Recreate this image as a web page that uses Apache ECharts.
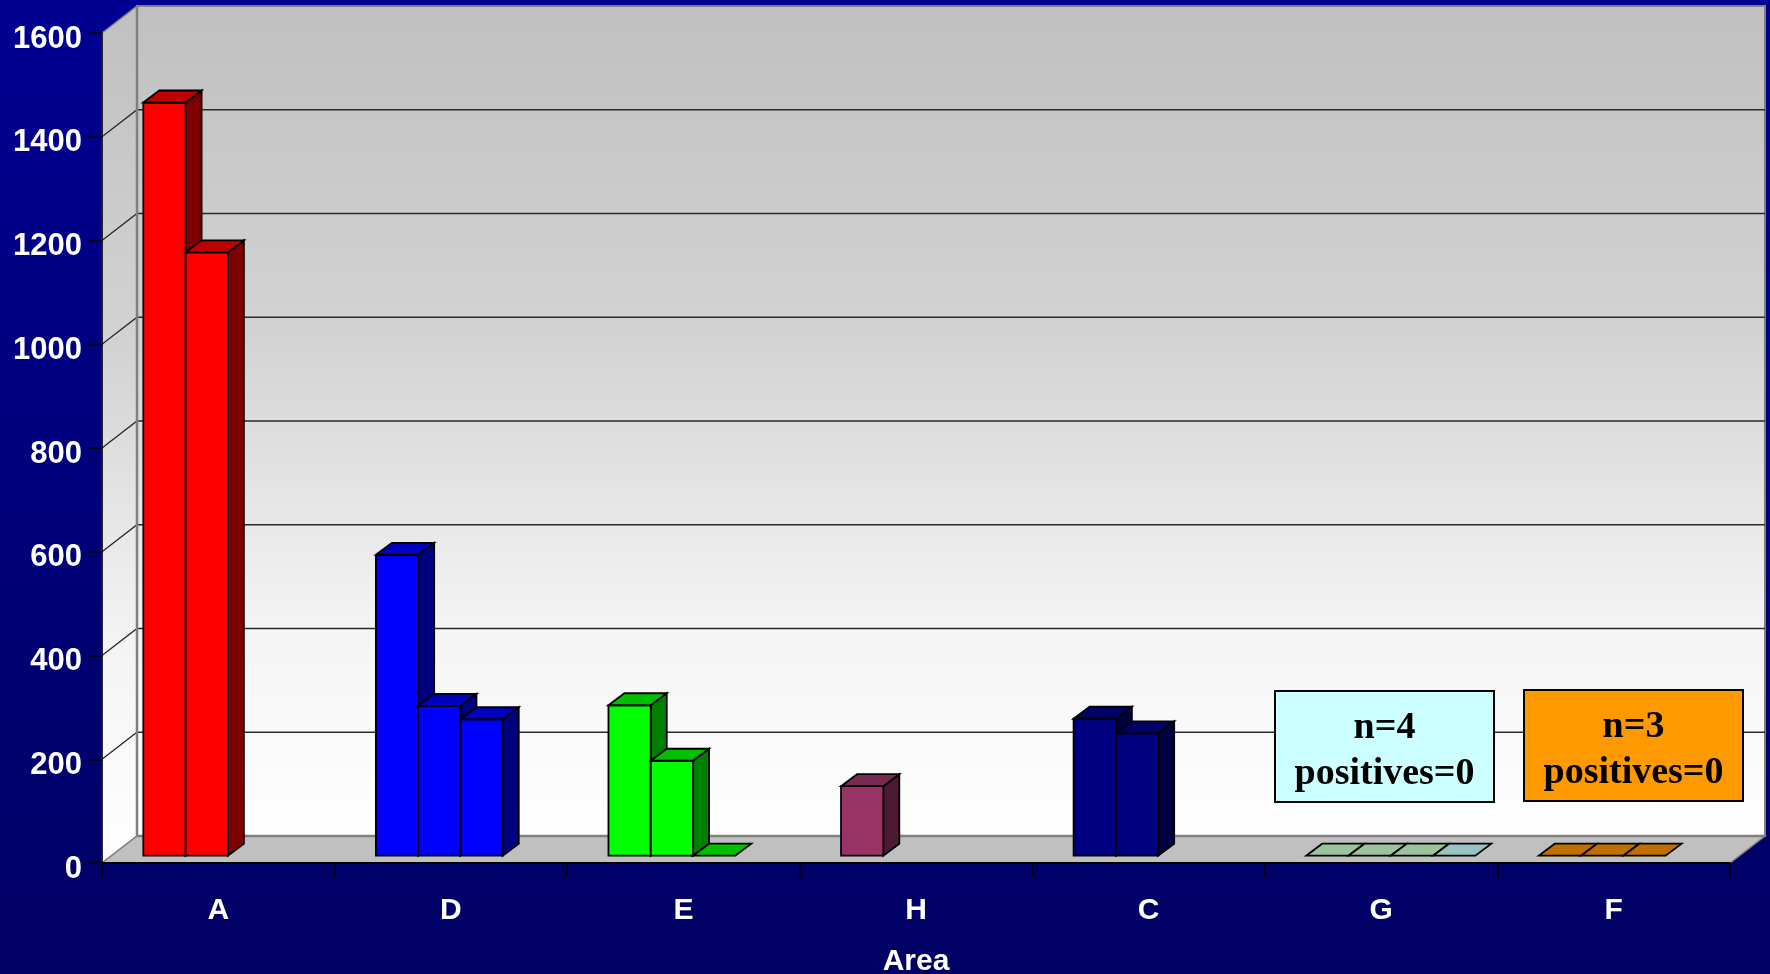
<!DOCTYPE html>
<html>
<head>
<meta charset="utf-8">
<title>Area</title>
<style>
  html, body { margin: 0; padding: 0; background: #000080; overflow: hidden; }
  #chart { width: 1770px; height: 974px; }
</style>
<script src="https://cdn.jsdelivr.net/npm/echarts@6/dist/echarts.min.js"></script>
</head>
<body>
<div id="chart"></div>
<script>
// ---- data ----
const categories = ['A', 'D', 'E', 'H', 'C', 'G', 'F'];
const yTicks = [0, 200, 400, 600, 800, 1000, 1200, 1400, 1600];
const series1 = [1452, 580, 290, 134, 264, 0, 0];
const series2 = [1163, 289, 183, null, 236, 0, 0];
const series3 = [null, 263, 0, null, null, 0, 0];
const series4 = [null, null, null, null, null, 0, null];
const notes = [
  { cat: 'G', lines: ['n=4', 'positives=0'] },
  { cat: 'F', lines: ['n=3', 'positives=0'] }
];

// ---- styling ----
const DEPTH_X = 35, DEPTH_Y = 27;      // wall depth
const FACE_X = 9.6, FACE_Y = 7.3;      // bar front face set back from the axis plane
const BAR_DX = 16, BAR_DY = 12;        // bar depth
const SLOTS = 4, GAP = 1.5;            // 4 bar slots, gap width 150%
const catStyles = [
  { front: '#FF0000', top: '#C00000', side: '#800000' },
  { front: '#0000FF', top: '#0000C0', side: '#000080' },
  { front: '#00FF00', top: '#00C000', side: '#008000' },
  { front: '#993366', top: '#7A2952', side: '#4D1A33' },
  { front: '#000080', top: '#000066', side: '#000040' },
  { front: '#C3F5C3', top: '#9CC49C', side: '#628A62' },
  { front: '#F08C00', top: '#C07000', side: '#804A00' }
];
const gLastStyle = { front: '#C0F2F2', top: '#99C2C2', side: '#608080' };
const noteFills = ['#CCFFFF', '#FF9900'];
const notePos = [
  { x: 1275, y: 691, w: 219, h: 111 },
  { x: 1524, y: 690, w: 219, h: 111 }
];

function styleFor(cat, k) {
  if (categories[cat] === 'G' && k === 3) return gLastStyle;
  return catStyles[cat];
}

// bar items: [category index, value, slot]
const allSeries = [series1, series2, series3, series4];
const barItems = [];
categories.forEach((c, i) => {
  allSeries.forEach((s, k) => {
    if (s[i] !== null && s[i] !== undefined) barItems.push([i, s[i], k]);
  });
});

function wallGradient() {
  return new echarts.graphic.LinearGradient(0, 0, 0, 1, [
    { offset: 0, color: '#C0C0C0' },
    { offset: 0.4, color: '#D3D3D3' },
    { offset: 0.75, color: '#F4F4F4' },
    { offset: 1, color: '#FFFFFF' }
  ]);
}

function renderFrame(params, api) {
  const cs = params.coordSys;
  const x0 = cs.x, y0 = cs.y, w = cs.width, h = cs.height;
  const xb = x0 + DEPTH_X, yb = y0 - DEPTH_Y;
  const children = [];
  // back wall
  children.push({ type: 'rect', shape: { x: xb, y: yb, width: w, height: h },
    style: { fill: wallGradient(), stroke: '#808080', lineWidth: 2 } });
  // left wall
  children.push({ type: 'polygon', shape: { points: [[x0, y0], [xb, yb], [xb, yb + h], [x0, y0 + h]] },
    style: { fill: wallGradient(), stroke: '#808080', lineWidth: 1.5 } });
  // floor
  children.push({ type: 'polygon', shape: { points: [[x0, y0 + h], [xb, yb + h], [xb + w, yb + h], [x0 + w, y0 + h]] },
    style: { fill: '#C0C0C0', stroke: '#808080', lineWidth: 1.5 } });
  // gridlines across the left wall and the back wall
  yTicks.forEach(v => {
    if (v <= yTicks[0] || v >= yTicks[yTicks.length - 1]) return;
    const y = api.coord([0, v])[1];
    children.push({ type: 'polyline', shape: { points: [[x0, y], [xb, y - DEPTH_Y], [xb + w, y - DEPTH_Y]] },
      style: { fill: null, stroke: '#2A2A2A', lineWidth: 1.3 } });
  });
  // back edges
  children.push({ type: 'line', shape: { x1: xb, y1: yb, x2: xb, y2: yb + h },
    style: { stroke: '#808080', lineWidth: 2.5 } });
  children.push({ type: 'line', shape: { x1: xb, y1: yb + h, x2: xb + w, y2: yb + h },
    style: { stroke: '#808080', lineWidth: 2.5 } });
  return { type: 'group', children };
}

function renderBar(params, api) {
  const cat = api.value(0), val = api.value(1), k = api.value(2);
  const band = api.size([1, 0])[0];
  const base = api.coord([cat, 0]);
  const topPt = api.coord([cat, val]);
  const bw = band / (SLOTS + GAP);
  const left = base[0] - band / 2 + band * GAP / 2 / (SLOTS + GAP) + k * bw + FACE_X;
  const right = left + bw;
  const yb = base[1] - FACE_Y;
  const yt = topPt[1] - FACE_Y;
  const st = styleFor(cat, k);
  const stroke = { stroke: '#000', lineWidth: 1.8, lineJoin: 'miter' };
  const children = [];
  if (yb - yt > 0.5) {
    children.push({ type: 'polygon', shape: { points: [[right, yt], [right + BAR_DX, yt - BAR_DY], [right + BAR_DX, yb - BAR_DY], [right, yb]] },
      style: Object.assign({ fill: st.side }, stroke) });
    children.push({ type: 'rect', shape: { x: left, y: yt, width: bw, height: yb - yt },
      style: Object.assign({ fill: st.front }, stroke) });
  }
  children.push({ type: 'polygon', shape: { points: [[left, yt], [left + BAR_DX, yt - BAR_DY], [right + BAR_DX, yt - BAR_DY], [right, yt]] },
    style: Object.assign({ fill: st.top }, stroke) });
  return { type: 'group', children };
}

const labelFont = { color: '#FFFFFF', fontSize: 30, fontWeight: 'bold', fontFamily: 'Liberation Sans, Arial, sans-serif' };

// annotation boxes
const noteElements = [];
notes.forEach((n, i) => {
  const p = notePos[i];
  noteElements.push({
    type: 'rect', z: 100, shape: { x: p.x, y: p.y, width: p.w, height: p.h },
    style: { fill: noteFills[i], stroke: '#000', lineWidth: 2 }
  });
  noteElements.push({
    type: 'text', z: 101, x: p.x + p.w / 2, y: p.y + p.h / 2 + 5,
    style: {
      text: n.lines.join('\n'), fill: '#000', align: 'center', verticalAlign: 'middle',
      fontSize: 38, fontWeight: 'bold', fontFamily: '"Liberation Serif", "Times New Roman", serif', lineHeight: 46
    }
  });
});

const chart = echarts.init(document.getElementById('chart'), null, { renderer: 'canvas' });
chart.setOption({
  animation: false,
  backgroundColor: new echarts.graphic.LinearGradient(0, 0, 0, 1, [
    { offset: 0, color: '#000092' },
    { offset: 1, color: '#000064' }
  ]),
  grid: { left: 102, right: 40, top: 33, bottom: 111, containLabel: false, outerBoundsMode: 'none' },
  xAxis: {
    type: 'category', data: categories, boundaryGap: true, z: 10,
    axisLine: { show: true, lineStyle: { color: '#000', width: 2 } },
    axisTick: { show: true, length: 14, interval: 0, lineStyle: { color: '#000', width: 1.5 } },
    axisLabel: Object.assign({ margin: 33, interval: 0 }, labelFont),
    splitLine: { show: false },
    name: 'Area', nameLocation: 'middle', nameGap: 84,
    nameTextStyle: labelFont
  },
  yAxis: {
    type: 'value', min: yTicks[0], max: yTicks[yTicks.length - 1], interval: 200, z: 10,
    axisLine: { show: true, lineStyle: { color: '#000', width: 1.5 } },
    axisTick: { show: true, length: 14, lineStyle: { color: '#000', width: 1.5 } },
    axisLabel: Object.assign({ margin: 20, formatter: v => String(v) },
      labelFont, { fontSize: 31, verticalAlign: 'top', lineHeight: 12 }),
    splitLine: { show: false }
  },
  series: [
    { type: 'custom', name: 'walls', z: 1, clip: false, silent: true,
      data: [[0, 0]], encode: { x: 0, y: 1 }, renderItem: renderFrame },
    { type: 'custom', name: 'bars', z: 5, clip: false,
      data: barItems, encode: { x: 0, y: 1 }, renderItem: renderBar }
  ],
  graphic: { elements: noteElements }
});
</script>
</body>
</html>
